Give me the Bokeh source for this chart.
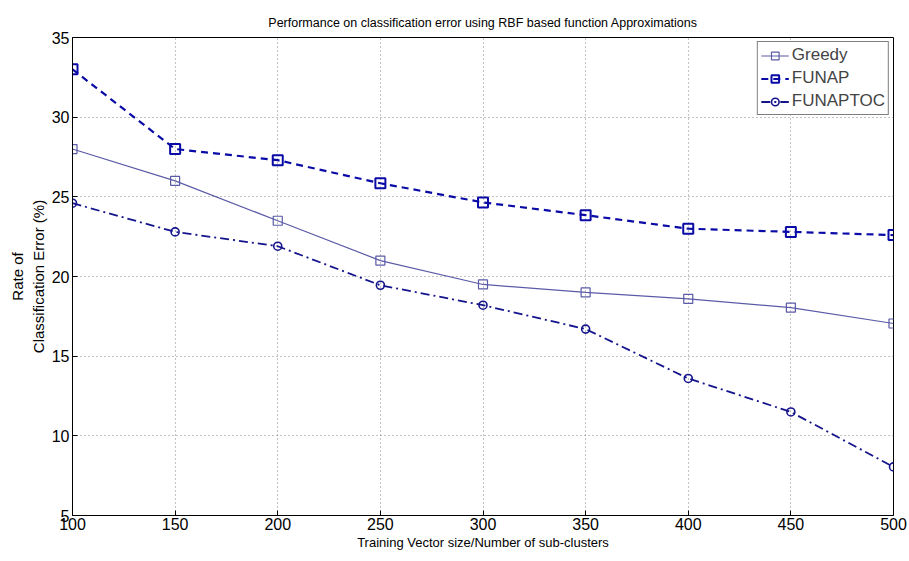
from bokeh.plotting import figure
from bokeh.models import Range1d, FixedTicker, Legend, LegendItem
from bokeh.embed import file_html
from bokeh.resources import INLINE

# Data
sizes = [100, 150, 200, 250, 300, 350, 400, 450, 500]
greedy = [28.0, 26.0, 23.5, 21.0, 19.5, 19.0, 18.6, 18.05, 17.05]
funap = [33.0, 28.0, 27.3, 25.85, 24.65, 23.85, 23.0, 22.8, 22.6]
funaptoc = [24.6, 22.8, 21.9, 19.45, 18.2, 16.7, 13.6, 11.5, 8.05]

x_ticks = [100, 150, 200, 250, 300, 350, 400, 450, 500]
y_ticks = [5, 10, 15, 20, 25, 30, 35]

FONT = "Liberation Sans"

p = figure(width=909, height=561, output_backend="svg", toolbar_location=None,
           x_range=Range1d(100, 500), y_range=Range1d(5, 35),
           min_border_left=72, min_border_right=16, min_border_top=37, min_border_bottom=46)

p.title.text = "Performance on classification error using RBF based function Approximations"
p.title.align = "center"
p.title.text_font = FONT
p.title.text_font_size = "12.5px"
p.title.text_font_style = "normal"
p.title.text_color = "black"
p.title.offset = 0
p.title.standoff = 16

p.outline_line_color = "black"
p.outline_line_width = 1
p.outline_line_alpha = 1.0

for ax in (p.xaxis, p.yaxis):
    ax.major_label_text_font = FONT
    ax.major_label_text_font_size = "16px"
    ax.major_label_text_color = "black"
    ax.axis_label_text_font = FONT
    ax.axis_label_text_font_style = "normal"
    ax.axis_label_text_color = "black"
    ax.axis_line_color = "black"
    ax.major_tick_in = 5
    ax.major_tick_out = 0
    ax.minor_tick_line_color = None
    ax.major_tick_line_color = "black"

p.xaxis.axis_label_text_font_size = "13px"
p.yaxis.axis_label_text_font_size = "15px"
p.xaxis.ticker = FixedTicker(ticks=x_ticks)
p.yaxis.ticker = FixedTicker(ticks=y_ticks)
p.xaxis.axis_label = "Training Vector size/Number of sub-clusters"
p.yaxis.axis_label = "Rate of\nClassification Error (%)"
p.xaxis.major_label_standoff = 2
p.yaxis.major_label_standoff = 3
p.xaxis.axis_label_standoff = 2
p.yaxis.axis_label_standoff = 2

for g in (p.xgrid, p.ygrid):
    g.grid_line_color = "#666666"
    g.grid_line_dash = "1 3"
    g.grid_line_width = 1
    g.grid_line_alpha = 0.8

c_greedy = "#5b5ba8"
c_funap = "#0a0aa6"
c_toc = "#14148c"

l1 = p.line(sizes, greedy, line_color=c_greedy, line_width=1.2)
s1 = p.scatter(sizes, greedy, marker="square", size=9, fill_color=None, line_color=c_greedy, line_width=1.2)

l2 = p.line(sizes, funap, line_color=c_funap, line_width=2.2, line_dash="7 5")
s2 = p.scatter(sizes, funap, marker="square", size=10, fill_color=None, line_color=c_funap, line_width=2)

l3 = p.line(sizes, funaptoc, line_color=c_toc, line_width=1.8, line_dash="9 4 2 4")
s3 = p.scatter(sizes, funaptoc, marker="circle", size=8, fill_color=None, line_color=c_toc, line_width=1.6)

legend = Legend(items=[
    LegendItem(label="Greedy", renderers=[l1, s1]),
    LegendItem(label="FUNAP", renderers=[l2, s2]),
    LegendItem(label="FUNAPTOC", renderers=[l3, s3]),
], location="top_right")
legend.label_text_font = FONT
legend.label_text_font_size = "17px"
legend.border_line_color = "black"
legend.border_line_width = 1
legend.background_fill_alpha = 1.0
legend.margin = 4
legend.padding = 3
legend.spacing = 3
legend.glyph_width = 28
legend.label_standoff = 3
legend.label_height = 19
legend.glyph_height = 19
p.add_layout(legend)

open("out.html", "w").write(file_html(p, INLINE))
